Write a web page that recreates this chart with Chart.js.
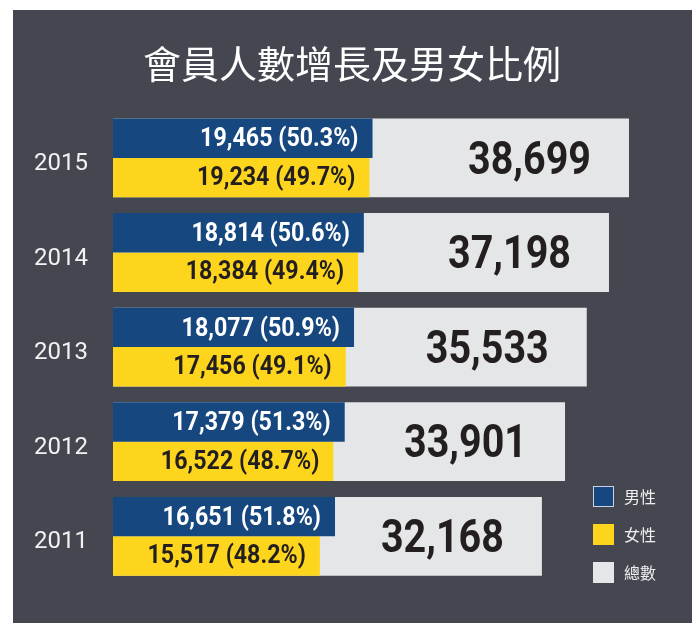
<!DOCTYPE html>
<html>
<head>
<meta charset="utf-8">
<script src="https://cdn.jsdelivr.net/npm/chart.js@4"></script>
<style>
  html, body { margin: 0; padding: 0; background: #fff; }
  #wrap { width: 696px; height: 623px; }
</style>
</head>
<body>
<div id="wrap"><canvas id="memberChart" width="696" height="623"></canvas></div>
<script>
// data
const years = ['2015', '2014', '2013', '2012', '2011'];
const maleCounts = [19465, 18814, 18077, 17379, 16651];
const malePct = [50.3, 50.6, 50.9, 51.3, 51.8];
const femaleCounts = [19234, 18384, 17456, 16522, 15517];
const femalePct = [49.7, 49.4, 49.1, 48.7, 48.2];
const totalCounts = [38699, 37198, 35533, 33901, 32168];

const BLUE = '#16477f';
const YELLOW = '#fdd51d';
const GREY = '#e5e6e8';
const PANEL = '#44474f';
const DARK = '#231f20';

const fmt = n => n.toLocaleString('en-US');

// dark panel behind everything
const panelBg = {
  id: 'panelBg',
  beforeDraw(chart) {
    const c = chart.ctx;
    c.save();
    c.fillStyle = '#fff';
    c.fillRect(0, 0, chart.width, chart.height);
    c.fillStyle = PANEL;
    c.fillRect(13, 10, 679, chart.height - 10);
    c.restore();
  }
};

// squeeze the text sideways to get a condensed look
function narrowText(c, txt, x, y, sx) {
  c.save();
  c.translate(x, y);
  c.scale(sx, 1);
  c.fillText(txt, 0, 0);
  c.restore();
}

// text inside the bars
const barText = {
  id: 'barText',
  afterDatasetsDraw(chart) {
    const c = chart.ctx;
    c.save();
    c.textAlign = 'right';
    c.textBaseline = 'middle';
    chart.data.datasets.forEach((ds, di) => {
      const meta = chart.getDatasetMeta(di);
      meta.data.forEach((bar, i) => {
        if (ds.kind === 'total') {
          c.font = 'bold 47px Roboto';
          c.fillStyle = DARK;
          narrowText(c, fmt(ds.data[i]), bar.x - 38, bar.y + 4, 0.84);
        } else {
          c.font = 'bold 25px Roboto';
          c.fillStyle = ds.kind === 'male' ? '#ffffff' : DARK;
          const txt = fmt(ds.data[i]) + ' (' + ds.pct[i].toFixed(1) + '%)';
          narrowText(c, txt, bar.x - 14, bar.y + (ds.kind === 'male' ? 2 : 1), 0.93);
        }
      });
    });
    c.restore();
  }
};

// small legend in the lower right corner
const cornerLegend = {
  id: 'cornerLegend',
  afterDraw(chart) {
    const c = chart.ctx;
    c.save();
    c.font = '16px "Noto Sans CJK TC"';
    c.textBaseline = 'middle';
    c.textAlign = 'left';
    chart.data.datasets.forEach((ds, i) => {
      const y = 486 + i * 38;
      c.fillStyle = ds.backgroundColor;
      c.fillRect(593, y, 21, 21);
      if (ds.kind === 'male') {
        c.strokeStyle = '#c9d3e3';
        c.lineWidth = 1;
        c.strokeRect(593.5, y + 0.5, 20, 20);
      }
      c.fillStyle = '#eeeeee';
      c.fillText(ds.label, 624, y + 11);
    });
    c.restore();
  }
};

new Chart(document.getElementById('memberChart'), {
  type: 'bar',
  data: {
    labels: years,
    datasets: [
      { label: '男性', kind: 'male', data: maleCounts, pct: malePct, backgroundColor: BLUE },
      { label: '女性', kind: 'female', data: femaleCounts, pct: femalePct, backgroundColor: YELLOW },
      { label: '總數', kind: 'total', data: totalCounts, backgroundColor: GREY, grouped: false }
    ]
  },
  options: {
    indexAxis: 'y',
    responsive: false,
    animation: false,
    categoryPercentage: 80 / 96,
    barPercentage: 1,
    layout: { padding: { left: 31, right: 23, top: 0, bottom: 32 } },
    scales: {
      x: { display: false, min: 0, max: 42000 },
      y: {
        grid: { display: false, drawTicks: false },
        border: { display: false },
        ticks: {
          color: '#f2f2f2',
          font: { family: 'Roboto', size: 24 },
          padding: 25,
          labelOffset: 6
        },
        afterFit(scale) { scale.width = 82; }
      }
    },
    plugins: {
      legend: { display: false },
      tooltip: { enabled: false },
      title: {
        display: true,
        text: '會員人數增長及男女比例',
        color: '#ffffff',
        font: { family: '"Noto Sans CJK TC"', size: 38, weight: 'normal' },
        padding: { top: 41, bottom: 24 }
      }
    }
  },
  plugins: [panelBg, barText, cornerLegend]
});
</script>
</body>
</html>
